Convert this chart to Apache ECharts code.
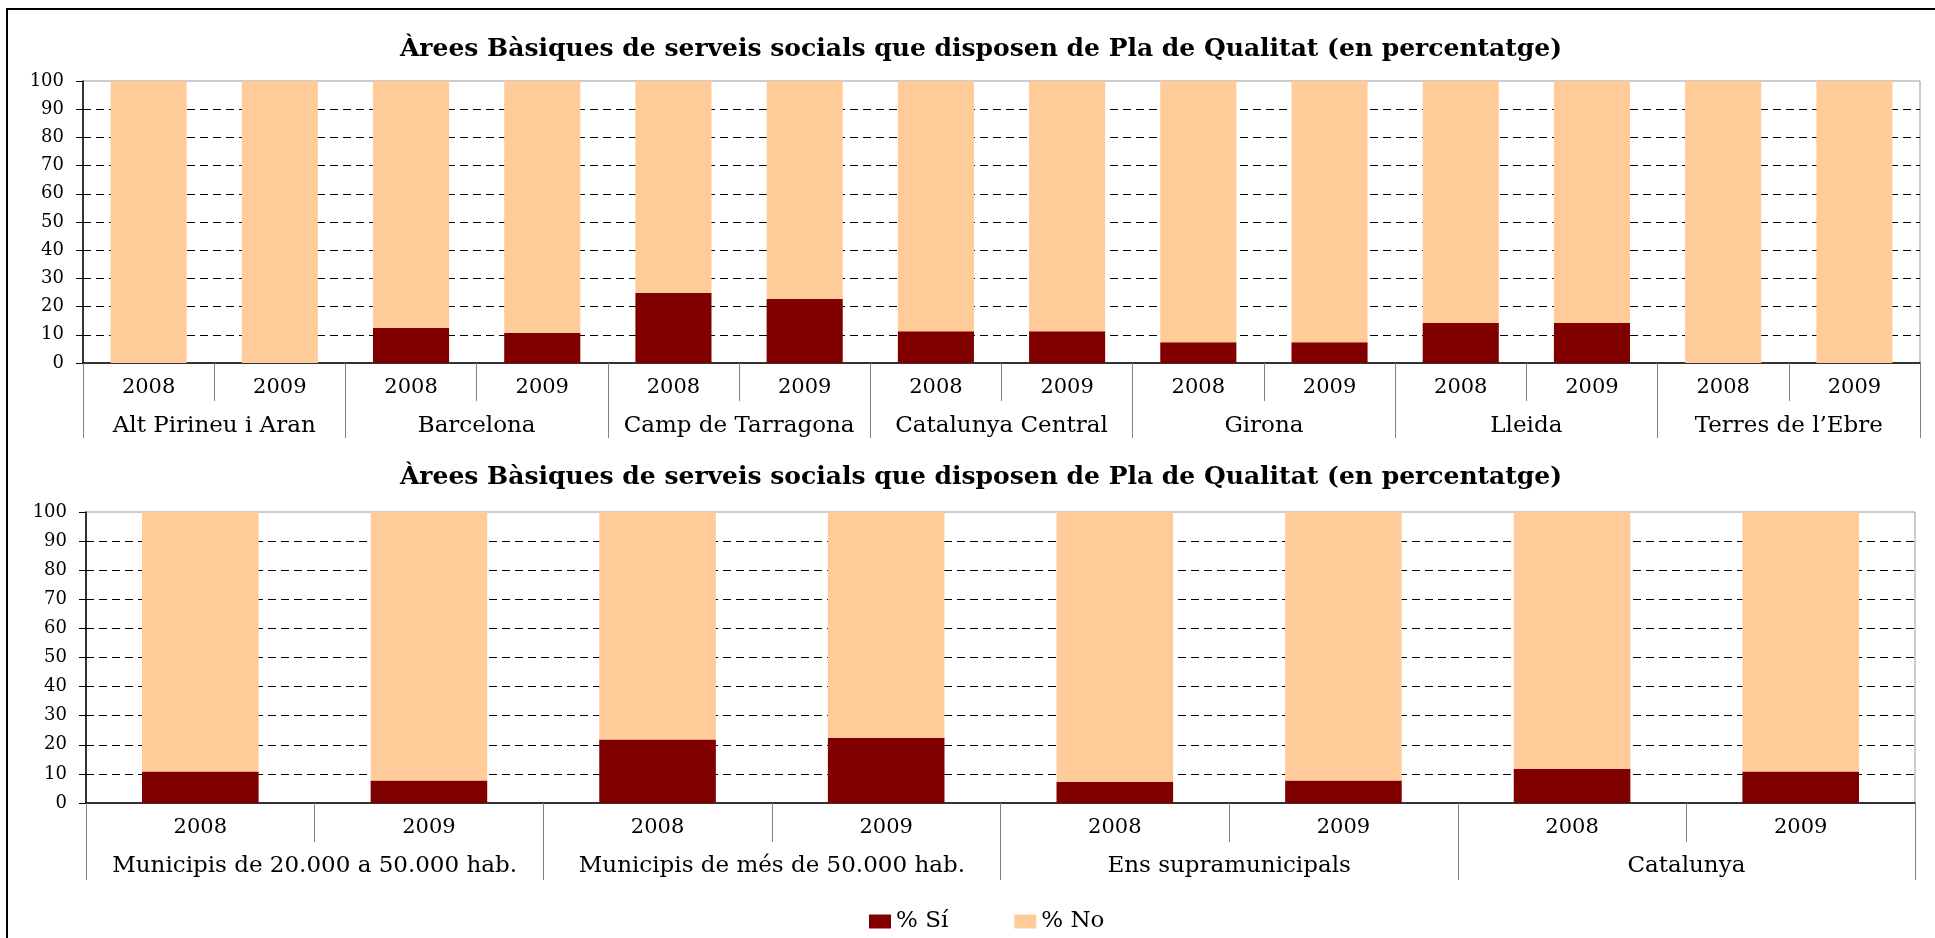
<!DOCTYPE html>
<html>
<head>
<meta charset="utf-8">
<script src="https://cdn.jsdelivr.net/npm/echarts@6/dist/echarts.min.js"></script>
<style>
  html, body { margin: 0; padding: 0; background: #fff; }
  #chart { width: 1935px; height: 938px; }
</style>
</head>
<body>
<div id="chart"></div>
<script>
// dades
var titol = 'Àrees Bàsiques de serveis socials que disposen de Pla de Qualitat (en percentatge)';
var anys = ['2008', '2009'];

var territoris = ['Alt Pirineu i Aran', 'Barcelona', 'Camp de Tarragona', 'Catalunya Central', 'Girona', 'Lleida', 'Terres de l\u2019Ebre'];
var siTerritori = [0, 0, 12.4, 10.7, 24.9, 22.7, 11.3, 11.3, 7.4, 7.4, 14.2, 14.2, 0, 0];
var noTerritori = [100, 100, 87.6, 89.3, 75.1, 77.3, 88.7, 88.7, 92.6, 92.6, 85.8, 85.8, 100, 100];

var tipus = ['Municipis de 20.000 a 50.000 hab.', 'Municipis de més de 50.000 hab.', 'Ens supramunicipals', 'Catalunya'];
var siTipus = [10.8, 7.7, 21.8, 22.4, 7.3, 7.7, 11.8, 10.8];
var noTipus = [89.2, 92.3, 78.2, 77.6, 92.7, 92.3, 88.2, 89.2];

var yTicks = [0, 10, 20, 30, 40, 50, 60, 70, 80, 90, 100];

var font = 'DejaVu Serif';
var colSi = '#800000';
var colNo = '#FFCC99';

function repetirAnys(grups) {
  var out = [];
  grups.forEach(function () { anys.forEach(function (a) { out.push(a); }); });
  return out;
}

function yAxisOpt(idx) {
  return {
    type: 'value',
    gridIndex: idx,
    min: yTicks[0],
    max: yTicks[yTicks.length - 1],
    interval: 10,
    axisLine: { show: true, lineStyle: { color: '#000', width: 1.5 } },
    axisTick: { show: true, length: 7, lineStyle: { color: '#000' } },
    axisLabel: { color: '#000', fontFamily: font, fontSize: 18, margin: 19 },
    splitLine: {
      show: true, showMaxLine: false, showMinLine: false,
      lineStyle: { color: '#000', type: [8, 5], width: 1 }
    }
  };
}

function yearAxis(idx, grups, tickLen) {
  return {
    type: 'category',
    gridIndex: idx,
    position: 'bottom',
    data: repetirAnys(grups),
    axisLine: { show: true, lineStyle: { color: '#000', width: 1.5 } },
    axisTick: { show: true, interval: 0, length: tickLen, lineStyle: { color: '#808080' } },
    axisLabel: { interval: 0, color: '#000', fontFamily: font, fontSize: 21, margin: 14 },
    splitLine: { show: false }
  };
}

function groupAxis(idx, grups, tickLen) {
  return {
    type: 'category',
    gridIndex: idx,
    position: 'bottom',
    data: grups,
    axisLine: { show: false },
    axisTick: { show: true, interval: 0, length: tickLen, lineStyle: { color: '#808080' } },
    axisLabel: { interval: 0, color: '#000', fontFamily: font, fontSize: 23, margin: 52 },
    splitLine: { show: false }
  };
}

var chart = echarts.init(document.getElementById('chart'));

var option = {
  backgroundColor: '#fff',
  animation: false,
  title: [
    { text: titol, left: 976, top: 32, textAlign: 'center',
      textStyle: { fontFamily: font, fontSize: 25, fontWeight: 'bold', color: '#000' } },
    { text: titol, left: 976, top: 460, textAlign: 'center',
      textStyle: { fontFamily: font, fontSize: 25, fontWeight: 'bold', color: '#000' } }
  ],
  legend: {
    data: ['% Sí', '% No'],
    left: 869,
    top: 910,
    padding: 0,
    itemWidth: 22,
    itemHeight: 14,
    itemGap: 66,
    icon: 'rect',
    textStyle: { fontFamily: font, fontSize: 23, color: '#000' }
  },
  grid: [
    { left: 83, right: 15, top: 81, height: 282, show: true, borderColor: '#999', borderWidth: 1, backgroundColor: 'transparent' },
    { left: 86, right: 20, top: 512, height: 291, show: true, borderColor: '#999', borderWidth: 1, backgroundColor: 'transparent' }
  ],
  xAxis: [
    yearAxis(0, territoris, 38),
    groupAxis(0, territoris, 75),
    yearAxis(1, tipus, 39),
    groupAxis(1, tipus, 77)
  ],
  yAxis: [yAxisOpt(0), yAxisOpt(1)],
  series: [
    { name: '% Sí', type: 'bar', stack: 'a', xAxisIndex: 0, yAxisIndex: 0, barWidth: '58%',
      itemStyle: { color: colSi }, data: siTerritori },
    { name: '% No', type: 'bar', stack: 'a', xAxisIndex: 0, yAxisIndex: 0, barWidth: '58%',
      itemStyle: { color: colNo }, data: noTerritori },
    { name: '% Sí', type: 'bar', stack: 'b', xAxisIndex: 2, yAxisIndex: 1, barWidth: '51%',
      itemStyle: { color: colSi }, data: siTipus },
    { name: '% No', type: 'bar', stack: 'b', xAxisIndex: 2, yAxisIndex: 1, barWidth: '51%',
      itemStyle: { color: colNo }, data: noTipus }
  ],
  graphic: [
    { type: 'polyline', silent: true,
      shape: { points: [[7, 938], [7, 9], [1935, 9]] },
      style: { stroke: '#000', lineWidth: 2, fill: null } }
  ]
};

chart.setOption(option);
window.addEventListener('resize', function () { chart.resize(); });
</script>
</body>
</html>
